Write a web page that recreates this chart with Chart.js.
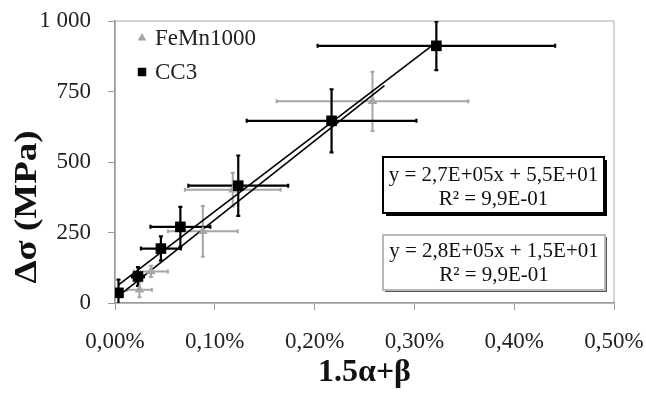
<!DOCTYPE html>
<html>
<head>
<meta charset="utf-8">
<script src="https://cdn.jsdelivr.net/npm/chart.js@4/dist/chart.umd.min.js"></script>
<style>
  html, body { margin: 0; padding: 0; background: #fff; }
  #wrap { width: 646px; height: 400px; }
</style>
</head>
<body>
<div id="wrap"><canvas id="chart" width="646" height="400"></canvas></div>
<script>
// values: x = 1.5a+b in %, y = delta sigma in MPa
const cc3X = [0.0035, 0.023, 0.046, 0.0655, 0.1235, 0.217, 0.322];
const cc3Y = [36, 94, 193, 270, 416, 646, 912];
const cc3XErr = [0.002, 0.006, 0.02, 0.03, 0.05, 0.085, 0.119];
const cc3YErr = [47, 33, 43, 71, 107, 112, 86];

const femnX = [0.0245, 0.036, 0.088, 0.118, 0.258];
const femnY = [47, 112, 254, 402, 715];
const femnXErr = [0.0125, 0.017, 0.035, 0.048, 0.096];
const femnYErr = [27, 20, 90, 60, 105];

// linear fits (slope per unit fraction, intercept) and their x span in %
const fitCC3 = [2.7e5, 55];
const fitFeMn = [2.8e5, 15];
const cc3TrendX = [0.0035, 0.322];
const femnTrendX = [0.003, 0.27];

const eqCC3 = ["y = 2,7E+05x + 5,5E+01", "R² = 9,9E-01"];
const eqFeMn = ["y = 2,8E+05x + 1,5E+01", "R² = 9,9E-01"];

const xTicks = [0, 0.1, 0.2, 0.3, 0.4, 0.5];
const yTicks = [0, 250, 500, 750, 1000];

const GRAY = "#a6a6a6";
const SERIF = "'Liberation Serif', serif";

function points(xs, ys) {
    return xs.map((x, i) => ({ x: x, y: ys[i] }));
}

function trend(range, fit) {
    return range.map(x => ({ x: x, y: fit[0] * x / 100 + fit[1] }));
}

// error bars drawn through the chart scales
const errorBars = {
    id: "errorBars",
    beforeDatasetsDraw(chart) {
        const ctx = chart.ctx, xs = chart.scales.x, ys = chart.scales.y;
        const ca = chart.chartArea;
        ctx.save();
        ctx.beginPath();
        ctx.rect(ca.left, ca.top, ca.right - ca.left, ca.bottom - ca.top);
        ctx.clip();
        chart.data.datasets.forEach(ds => {
            if (!ds.xErr) return;
            ctx.strokeStyle = ds.borderColor;
            ctx.lineWidth = ds.errWidth;
            ds.data.forEach((p, j) => {
                const px = xs.getPixelForValue(p.x), py = ys.getPixelForValue(p.y);
                const x0 = xs.getPixelForValue(p.x - ds.xErr[j]);
                const x1 = xs.getPixelForValue(p.x + ds.xErr[j]);
                const y0 = ys.getPixelForValue(p.y - ds.yErr[j]);
                const y1 = ys.getPixelForValue(p.y + ds.yErr[j]);
                ctx.beginPath();
                ctx.moveTo(x0, py); ctx.lineTo(x1, py);
                ctx.moveTo(px, y0); ctx.lineTo(px, y1);
                ctx.moveTo(x0, py - 2); ctx.lineTo(x0, py + 2);
                ctx.moveTo(x1, py - 2); ctx.lineTo(x1, py + 2);
                ctx.moveTo(px - 2, y0); ctx.lineTo(px + 2, y0);
                ctx.moveTo(px - 2, y1); ctx.lineTo(px + 2, y1);
                ctx.stroke();
            });
        });
        ctx.restore();
    }
};

// plot frame, legend, equation boxes and the y title
const decorations = {
    id: "decorations",
    beforeDraw(chart) {
        const ctx = chart.ctx, ca = chart.chartArea;
        ctx.save();
        ctx.strokeStyle = "#c8c8c8";
        ctx.lineWidth = 1.5;
        ctx.strokeRect(ca.left, ca.top, ca.right - ca.left, ca.bottom - ca.top);
        ctx.restore();
    },
    afterDraw(chart) {
        const ctx = chart.ctx, ca = chart.chartArea;
        ctx.save();

        // legend inside the plot, one row per series
        ctx.font = "23px " + SERIF;
        ctx.textAlign = "left";
        ctx.textBaseline = "middle";
        chart.data.datasets.filter(ds => ds.label).forEach((ds, i) => {
            const ly = ca.top + 17 + i * 34;
            ctx.fillStyle = ds.backgroundColor;
            ctx.strokeStyle = ds.borderColor;
            Chart.helpers.drawPoint(ctx, {
                pointStyle: ds.pointStyle,
                radius: ds.pointStyle === "rect" ? 6 : 5,
                borderWidth: 0
            }, ca.left + 27, ly);
            ctx.fillStyle = "#222";
            ctx.fillText(ds.label, ca.left + 40, ly + 1);
        });

        // box for CC3 fit
        let bx = ca.left + 268, by = ca.top + 136, bw = 221, bh = 56;
        ctx.fillStyle = "#fff";
        ctx.fillRect(bx, by, bw, bh);
        ctx.fillStyle = "#000";
        ctx.fillRect(bx + 3, by + bh, bw, 3);
        ctx.fillRect(bx + bw, by + 3, 3, bh);
        ctx.strokeStyle = "#000";
        ctx.lineWidth = 2;
        ctx.strokeRect(bx, by, bw, bh);

        ctx.font = "21px " + SERIF;
        ctx.textAlign = "center";
        ctx.textBaseline = "middle";
        ctx.fillStyle = "#111";
        ctx.fillText(eqCC3[0], bx + bw / 2, by + 18);
        ctx.fillText(eqCC3[1], bx + bw / 2, by + 42);

        // box for FeMn1000 fit
        bx = ca.left + 268; by = ca.top + 214; bw = 222; bh = 55;
        ctx.fillStyle = "#fff";
        ctx.fillRect(bx, by, bw, bh);
        ctx.fillStyle = "#555";
        ctx.fillRect(bx + 2, by + bh, bw, 2);
        ctx.fillRect(bx + bw, by + 2, 2, bh);
        ctx.strokeStyle = "#b8b8b8";
        ctx.lineWidth = 2;
        ctx.strokeRect(bx, by, bw, bh);
        ctx.fillStyle = "#111";
        ctx.fillText(eqFeMn[0], bx + bw / 2, by + 16);
        ctx.fillText(eqFeMn[1], bx + bw / 2, by + 40);

        // y axis title
        ctx.translate(28, 207);
        ctx.rotate(-Math.PI / 2);
        ctx.scale(1, 0.85);
        ctx.font = "bold 37px " + SERIF;
        ctx.fillStyle = "#111";
        ctx.fillText("Δσ (MPa)", 0, 0);
        ctx.restore();
    }
};

const ctx = document.getElementById("chart").getContext("2d");
new Chart(ctx, {
    type: "scatter",
    data: {
        datasets: [
            {
                label: "FeMn1000",
                data: points(femnX, femnY),
                xErr: femnXErr,
                yErr: femnYErr,
                errWidth: 2,
                pointStyle: "triangle",
                pointRadius: 5.5,
                backgroundColor: GRAY,
                borderColor: GRAY,
                borderWidth: 0,
                order: 2
            },
            {
                label: "CC3",
                data: points(cc3X, cc3Y),
                xErr: cc3XErr,
                yErr: cc3YErr,
                errWidth: 2.2,
                pointStyle: "rect",
                pointRadius: 7.5,
                backgroundColor: "#000",
                borderColor: "#000",
                borderWidth: 0,
                order: 1
            },
            {
                label: "",
                type: "line",
                data: trend(cc3TrendX, fitCC3),
                borderColor: "#000",
                borderWidth: 1.6,
                pointRadius: 0,
                order: 3
            },
            {
                label: "",
                type: "line",
                data: trend(femnTrendX, fitFeMn),
                borderColor: "#000",
                borderWidth: 1.6,
                pointRadius: 0,
                order: 3
            }
        ]
    },
    options: {
        responsive: false,
        animation: false,
        layout: { padding: { top: 21, right: 32, bottom: 0, left: 0 } },
        plugins: {
            tooltip: { enabled: false },
            legend: { display: false }
        },
        scales: {
            x: {
                type: "linear",
                min: 0,
                max: 0.5,
                afterBuildTicks: axis => { axis.ticks = xTicks.map(v => ({ value: v })); },
                afterFit: axis => {
                    axis.height = 97;
                    axis.paddingLeft = 0;
                    axis.paddingRight = 20;
                },
                ticks: {
                    padding: 18,
                    color: "#222",
                    font: { family: SERIF, size: 23 },
                    callback: v => v.toFixed(2).replace(".", ",") + "%"
                },
                grid: { drawOnChartArea: false, tickLength: 7, tickColor: "#9a9a9a" },
                border: { color: "#9a9a9a", width: 1.5 },
                title: {
                    display: true,
                    text: "1.5α+β",
                    color: "#111",
                    font: { family: SERIF, size: 32, weight: "bold" },
                    padding: { top: 0, bottom: 8 }
                }
            },
            y: {
                min: 0,
                max: 1000,
                afterBuildTicks: axis => { axis.ticks = yTicks.map(v => ({ value: v })); },
                afterFit: axis => {
                    axis.width = 115;
                    axis.paddingTop = 12;
                    axis.paddingBottom = 12;
                },
                ticks: {
                    padding: 17,
                    color: "#222",
                    font: { family: SERIF, size: 23 },
                    callback: v => String(v).replace(/\B(?=(\d{3})+(?!\d))/g, " ")
                },
                grid: { drawOnChartArea: false, tickLength: 7, tickColor: "#9a9a9a" },
                border: { color: "#9a9a9a", width: 1.5 }
            }
        }
    },
    plugins: [errorBars, decorations]
});
</script>
</body>
</html>
